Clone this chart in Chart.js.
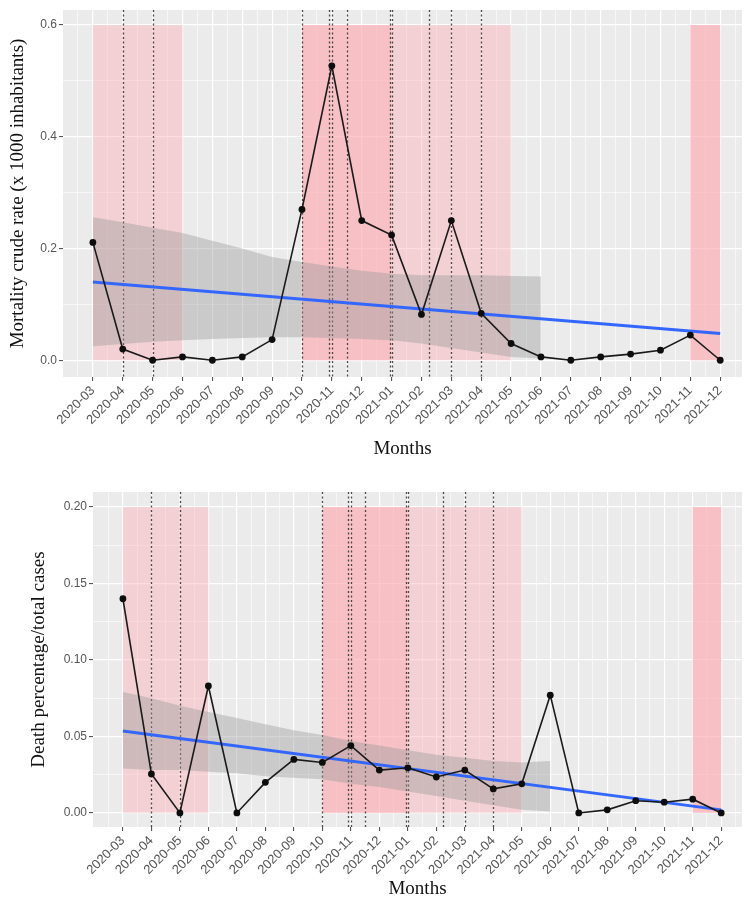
<!DOCTYPE html>
<html>
<head>
<meta charset="utf-8">
<title>Mortality crude rate and death percentage by month</title>
<script src="https://cdn.jsdelivr.net/npm/chart.js@4.4.1/dist/chart.umd.min.js"></script>
<style>
  body { margin: 0; background: #ffffff; }
  .panel { position: absolute; left: 0; }
  #topWrap { top: 0; }
  #bottomWrap { top: 462px; }
</style>
</head>
<body>
<div class="panel" id="topWrap"><canvas id="mortalityChart" width="746" height="462"></canvas></div>
<div class="panel" id="bottomWrap"><canvas id="deathChart" width="746" height="440"></canvas></div>

<script>
// Months on the x axis
const months = ['2020-03', '2020-04', '2020-05', '2020-06', '2020-07', '2020-08', '2020-09',
                '2020-10', '2020-11', '2020-12', '2021-01', '2021-02', '2021-03', '2021-04',
                '2021-05', '2021-06', '2021-07', '2021-08', '2021-09', '2021-10', '2021-11', '2021-12'];

// Top panel: mortality crude rate (x 1000 inhabitants)
const mortalityRate = [0.211, 0.020, 0.000, 0.006, 0.000, 0.006, 0.037,
                       0.270, 0.527, 0.250, 0.224, 0.082, 0.250, 0.084,
                       0.030, 0.006, 0.000, 0.006, 0.011, 0.018, 0.045, 0.000];
// linear fit at first and last month
const mortalityFit = [0.140, 0.048];
// confidence band, 2020-03 .. 2021-06
const mortalityBandUpper = [0.256, 0.247, 0.237, 0.228, 0.214, 0.200, 0.185, 0.176,
                            0.168, 0.160, 0.155, 0.152, 0.152, 0.152, 0.151, 0.150];
const mortalityBandLower = [0.025, 0.029, 0.033, 0.036, 0.038, 0.040, 0.041, 0.041,
                            0.040, 0.038, 0.036, 0.030, 0.022, 0.014, 0.006, 0.003];
const mortalityTicks = [0, 0.2, 0.4, 0.6];
const mortalityMinor = [0.1, 0.3, 0.5];

// Bottom panel: death percentage / total cases
const deathShare = [0.140, 0.0255, 0.000, 0.083, 0.000, 0.020, 0.035,
                    0.033, 0.044, 0.028, 0.0295, 0.0235, 0.028, 0.0157,
                    0.019, 0.077, 0.000, 0.002, 0.008, 0.007, 0.009, 0.000];
const deathFit = [0.0536, 0.002];
const deathBandUpper = [0.079, 0.075, 0.070, 0.066, 0.062, 0.058, 0.054, 0.051,
                        0.047, 0.044, 0.041, 0.038, 0.036, 0.034, 0.033, 0.034];
const deathBandLower = [0.029, 0.028, 0.028, 0.027, 0.026, 0.024, 0.023, 0.022,
                        0.019, 0.017, 0.014, 0.011, 0.008, 0.005, 0.002, 0.001];
const deathTicks = [0, 0.05, 0.10, 0.15, 0.20];
const deathMinor = [0.025, 0.075, 0.125, 0.175];

// Shaded periods (month index start, end) and dotted event lines (month index)
const waveSpans = [[0, 3], [7, 14], [7, 10], [20, 21], [20, 21]];
const eventMonths = [1, 2, 7, 7.9, 8, 8.5, 9.93, 10, 11.25, 12, 13];

const serif = 'Liberation Serif';
const sans = 'Liberation Sans';

// ggplot-like panel: grey background, pink periods, dotted event lines
const panelPlugin = {
    id: 'panel',
    beforeDraw(chart) {
        const { ctx, chartArea: a } = chart;
        ctx.save();
        ctx.fillStyle = '#EBEBEB';
        ctx.fillRect(a.left, a.top, a.right - a.left, a.bottom - a.top);
        ctx.restore();
    },
    beforeDatasetsDraw(chart, args, opts) {
        const { ctx, chartArea: a, scales: { x, y } } = chart;
        ctx.save();
        ctx.beginPath();
        ctx.rect(a.left, a.top, a.right - a.left, a.bottom - a.top);
        ctx.clip();

        ctx.fillStyle = 'rgba(252, 168, 176, 0.4)';
        const yTop = y.getPixelForValue(opts.spanTop);
        const yBottom = y.getPixelForValue(0);
        waveSpans.forEach(s => {
            const x0 = x.getPixelForValue(s[0]);
            const x1 = x.getPixelForValue(s[1]);
            ctx.fillRect(x0, yTop, x1 - x0, yBottom - yTop);
        });

        ctx.strokeStyle = 'rgba(45, 45, 45, 0.85)';
        ctx.lineWidth = 1.3;
        ctx.setLineDash([2, 2.5]);
        eventMonths.forEach(m => {
            const px = Math.round(x.getPixelForValue(m)) + 0.5;
            ctx.beginPath();
            ctx.moveTo(px, a.top);
            ctx.lineTo(px, a.bottom);
            ctx.stroke();
        });
        ctx.restore();
    }
};

function buildChart(canvasId, cfg) {
    const ctx = document.getElementById(canvasId).getContext('2d');
    const last = months.length - 1;

    new Chart(ctx, {
        type: 'line',
        data: {
            datasets: [
                {
                    data: cfg.values.map((v, i) => ({ x: i, y: v })),
                    borderColor: '#1a1a1a',
                    borderWidth: 1.6,
                    pointRadius: 3.4,
                    pointBackgroundColor: '#0d0d0d',
                    pointBorderWidth: 0,
                    tension: 0
                },
                {
                    data: [{ x: 0, y: cfg.fit[0] }, { x: last, y: cfg.fit[1] }],
                    borderColor: '#3366FF',
                    borderWidth: 3,
                    pointRadius: 0
                },
                {
                    data: cfg.upper.map((v, i) => ({ x: i, y: v })),
                    borderWidth: 0,
                    pointRadius: 0,
                    fill: '+1',
                    backgroundColor: 'rgba(153, 153, 153, 0.4)'
                },
                {
                    data: cfg.lower.map((v, i) => ({ x: i, y: v })),
                    borderWidth: 0,
                    pointRadius: 0,
                    fill: false
                }
            ]
        },
        options: {
            responsive: false,
            animation: false,
            layout: { padding: { top: cfg.padTop, left: cfg.padLeft, right: 0, bottom: 0 } },
            plugins: {
                legend: { display: false },
                tooltip: { enabled: false },
                panel: { spanTop: cfg.spanTop }
            },
            scales: {
                x: {
                    type: 'linear',
                    min: cfg.xMin,
                    max: 21.73,
                    afterBuildTicks: scale => {
                        const ticks = [];
                        for (let v = -0.5; v <= 21.5; v += 0.5) ticks.push({ value: v });
                        scale.ticks = ticks;
                    },
                    afterFit: scale => {
                        scale.height = cfg.xHeight;
                        scale.paddingLeft = 0;
                        scale.paddingRight = 0;
                    },
                    ticks: {
                        autoSkip: false,
                        minRotation: 45,
                        maxRotation: 45,
                        padding: 2,
                        color: '#555555',
                        font: { family: sans, size: 13 },
                        callback: v => (Number.isInteger(v) && v >= 0 && v <= last) ? months[v] : ''
                    },
                    grid: {
                        color: '#FFFFFF',
                        lineWidth: c => (c.tick && Number.isInteger(c.tick.value)) ? 1.2 : 0.6,
                        tickColor: c => (c.tick && Number.isInteger(c.tick.value) && c.tick.value >= 0) ? '#444444' : 'rgba(0,0,0,0)',
                        tickLength: 4,
                        tickWidth: 1
                    },
                    border: { display: false },
                    title: {
                        display: true,
                        text: 'Months',
                        color: '#111111',
                        font: { family: serif, size: 19 },
                        padding: { top: 0, bottom: 2 }
                    }
                },
                y: {
                    min: cfg.yMin,
                    max: cfg.yMax,
                    afterBuildTicks: scale => {
                        scale.ticks = cfg.ticks.concat(cfg.minor).map(v => ({ value: v }));
                    },
                    afterFit: scale => { scale.width = cfg.yWidth; },
                    ticks: {
                        padding: 2,
                        color: '#555555',
                        font: { family: sans, size: 12 },
                        callback: v => cfg.ticks.includes(v) ? v.toFixed(cfg.decimals) : ''
                    },
                    grid: {
                        color: '#FFFFFF',
                        lineWidth: c => (c.tick && cfg.ticks.includes(c.tick.value)) ? 1.2 : 0.6,
                        tickColor: c => (c.tick && cfg.ticks.includes(c.tick.value)) ? '#444444' : 'rgba(0,0,0,0)',
                        tickLength: 4,
                        tickWidth: 1
                    },
                    border: { display: false },
                    title: {
                        display: true,
                        text: cfg.yTitle,
                        color: '#111111',
                        font: { family: serif, size: 19 },
                        padding: { top: 7, bottom: 0 }
                    }
                }
            }
        },
        plugins: [panelPlugin]
    });
}

buildChart('mortalityChart', {
    values: mortalityRate,
    fit: mortalityFit,
    upper: mortalityBandUpper,
    lower: mortalityBandLower,
    ticks: mortalityTicks,
    minor: mortalityMinor,
    decimals: 1,
    yTitle: 'Mortality crude rate (x 1000 inhabitants)',
    yMin: -0.030,
    yMax: 0.627,
    spanTop: 0.6,
    xMin: -1.0,
    padTop: 10,
    padLeft: 0,
    yWidth: 63,
    xHeight: 85
});

buildChart('deathChart', {
    values: deathShare,
    fit: deathFit,
    upper: deathBandUpper,
    lower: deathBandLower,
    ticks: deathTicks,
    minor: deathMinor,
    decimals: 2,
    yTitle: 'Death percentage/total cases',
    yMin: -0.0092,
    yMax: 0.2098,
    spanTop: 0.2,
    xMin: -1.05,
    padTop: 30,
    padLeft: 21,
    yWidth: 72,
    xHeight: 75
});
</script>
</body>
</html>
